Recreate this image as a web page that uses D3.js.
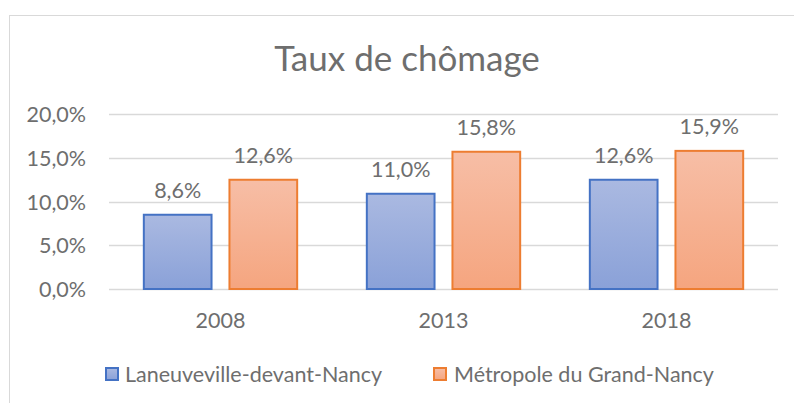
<!DOCTYPE html>
<html><head><meta charset="utf-8">
<script src="https://cdn.jsdelivr.net/npm/d3@7"></script>
<style>body{margin:0;background:#fff}svg{display:block}text{font-family:Lato,"Open Sans",sans-serif;fill:#6e6e6e}</style>
</head><body><svg id="c" width="794" height="403"></svg>
<script>
const categories = ["2008","2013","2018"];
const seriesNames = ["Laneuveville-devant-Nancy","Métropole du Grand-Nancy"];
const laneuveville = [8.6, 11.0, 12.6];
const metropole = [12.6, 15.8, 15.9];
const yTicks = [0,5,10,15,20];
const title = "Taux de chômage";

const svg = d3.select("#c");
const W=794,H=403;
const fmt = v => d3.format(".1f")(v).replace(".",",")+"%";
const defs = svg.append("defs");
const grads = [["gB","#aab9e1","#8aa1d8"],["gO","#f7bea6","#f5a57f"]];
grads.forEach(([id,a,b])=>{
  const g=defs.append("linearGradient").attr("id",id).attr("x1",0).attr("x2",0).attr("y1",0).attr("y2",1);
  g.append("stop").attr("offset","0%").attr("stop-color",a);
  g.append("stop").attr("offset","100%").attr("stop-color",b);
});
const strokes=["#4472c4","#ed7d31"];
const FS=21.5;
// border
svg.append("rect").attr("x",9.5).attr("y",15.5).attr("width",W).attr("height",H).attr("fill","none").attr("stroke","#d9d9d9");
svg.append("text").attr("x",407).attr("y",71).attr("text-anchor","middle").attr("font-size",35).text(title);

const x = d3.scaleBand().domain(categories).range([109,778]);
const y = d3.scaleLinear().domain([0,20]).range([289,114]);
const inner = d3.scaleBand().domain([0,1]).range([0,x.bandwidth()]).paddingInner(0.186).paddingOuter(0.395);

const g = svg.append("g");
g.selectAll("line.grid").data(yTicks).join("line").attr("x1",109).attr("x2",778)
  .attr("y1",d=>Math.round(y(d))+0.5).attr("y2",d=>Math.round(y(d))+0.5).attr("stroke","#d9d9d9").attr("stroke-width",1.3);
g.selectAll("text.yt").data(yTicks).join("text").attr("x",86).attr("y",d=>y(d)+8).attr("text-anchor","end").attr("font-size",FS).text(fmt);
g.selectAll("text.xt").data(categories).join("text").attr("x",d=>x(d)+x.bandwidth()/2).attr("y",328).attr("text-anchor","middle").attr("font-size",FS).text(d=>d);

[laneuveville, metropole].forEach((vals,si)=>{
  categories.forEach((c,i)=>{
    const bx = x(c)+inner(si), bw=inner.bandwidth();
    g.append("rect").attr("x",bx+1).attr("y",y(vals[i])+1).attr("width",bw-2).attr("height",y(0)-y(vals[i])-1)
      .attr("fill",`url(#${grads[si][0]})`).attr("stroke",strokes[si]).attr("stroke-width",2);
    g.append("text").attr("x",bx+bw/2).attr("y",y(vals[i])-16).attr("text-anchor","middle").attr("font-size",FS).text(fmt(vals[i]));
  });
});
// legend
const lg=[{x:105,tx:125},{x:433,tx:454}];
seriesNames.forEach((n,i)=>{
  svg.append("rect").attr("x",lg[i].x+1).attr("y",368).attr("width",12).attr("height",12).attr("fill",`url(#${grads[i][0]})`).attr("stroke",strokes[i]).attr("stroke-width",2);
  svg.append("text").attr("x",lg[i].tx).attr("y",382).attr("font-size",FS).text(n);
});
</script></body></html>
